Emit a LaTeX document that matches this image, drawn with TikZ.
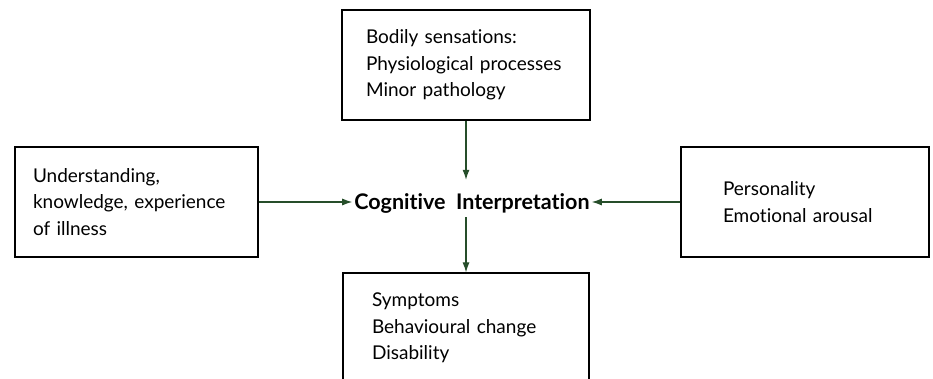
\documentclass[tikz,border=0pt]{standalone}
\usepackage{fontspec}
\setmainfont[Ligatures=NoCommon]{Lato}
\usepackage{tikz}
\usetikzlibrary{arrows.meta}

\begin{document}
\begin{tikzpicture}[x=1pt,y=-1pt,
  box/.style={draw,line width=1.2pt,align=left,inner ysep=0pt,minimum height=110pt,font=\fontsize{19}{26.5}\selectfont},
  arr/.style={->,>={Latex[length=10pt,width=7pt]},line width=1.1pt,draw={rgb,255:red,38;green,78;blue,42}}]
\useasboundingbox (0,0) rectangle (933,379);
\node[box,text width=200pt,inner xsep=24pt] (BS)at(466,65){Bodily sensations:\\Physiological processes\\Minor pathology};
\node[box,text width=207pt,inner xsep=18pt] (UK)at(136.5,202){Understanding,\\knowledge, experience\\of illness};
\node[box,text width=164pt,inner xsep=42pt] (PE)at(805,202){Personality\\Emotional arousal};
\node[box,text width=188pt,inner xsep=29pt] (SY)at(466,328){Symptoms\\Behavioural change\\Disability};
\node[font=\fontsize{21.5}{24}\selectfont\bfseries,text height=26pt,text depth=3pt,inner ysep=4pt,inner xsep=2pt] (CI)at(472,198.5){Cognitive\ \ Interpretation};
\draw[arr] (BS.south) to (BS.south |- CI.north);
\draw[arr] (UK.east) to (UK.east -| CI.west);
\draw[arr] (PE.west) to (PE.west -| CI.east);
\draw[arr] (SY.north |- CI.south) to (SY.north);
\end{tikzpicture}
\end{document}
